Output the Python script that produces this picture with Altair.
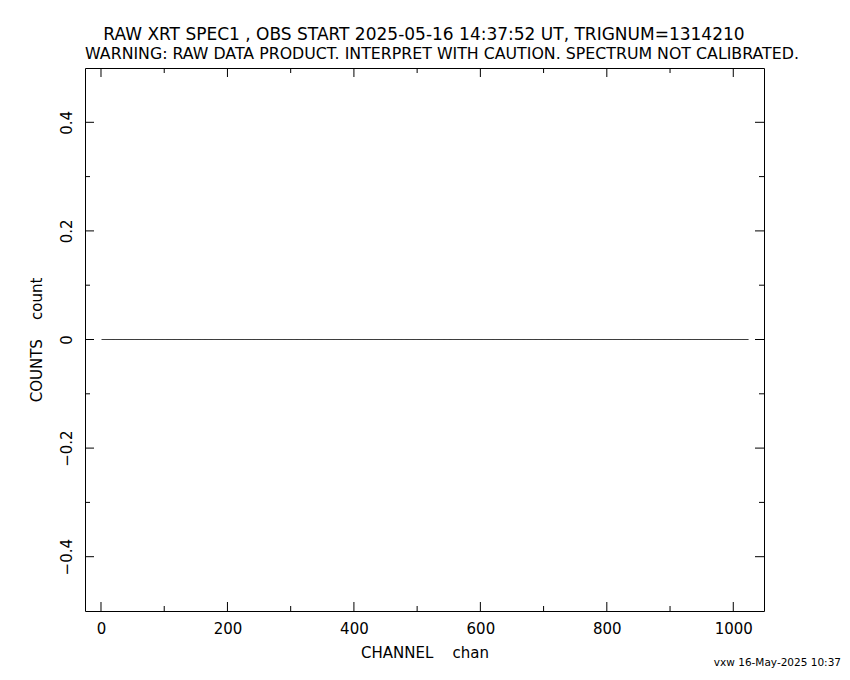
import altair as alt
import pandas as pd

# ---- data ----
channels = list(range(1, 1025))
counts = [0.0] * 1024

x_major = [0, 200, 400, 600, 800, 1000]
x_minor = [100, 300, 500, 700, 900]
y_major = [-0.4, -0.2, 0.0, 0.2, 0.4]
y_minor = [-0.3, -0.1, 0.1, 0.3]

title_line1 = "RAW XRT SPEC1 , OBS START 2025-05-16 14:37:52 UT, TRIGNUM=1314210"
title_line2 = "WARNING: RAW DATA PRODUCT. INTERPRET WITH CAUTION. SPECTRUM NOT CALIBRATED."
x_title = "CHANNEL\u00a0\u00a0\u00a0\u00a0chan"
y_title = "COUNTS\u00a0\u00a0\u00a0\u00a0count"
footer = "vxw 16-May-2025 10:37"

# ---- layout ----
W, H = 679, 543
FONT = "DejaVu Sans"
MAJ, MIN = 9, 5

xs = alt.Scale(domain=[-25.3, 1048.6], nice=False, zero=False)
ys = alt.Scale(domain=[-0.5, 0.5], nice=False, zero=False)

x_axis = alt.Axis(values=x_major, ticks=False, domain=False, grid=False,
                  labelPadding=10, labelFont=FONT, labelFontSize=15, labelColor="black",
                  title=x_title, titleFont=FONT, titleFontSize=15, titleFontWeight="normal",
                  titleColor="black", titlePadding=9, format="d")
y_axis = alt.Axis(values=y_major, ticks=False, domain=False, grid=False,
                  labelAngle=-90, labelAlign="center", labelBaseline="bottom",
                  labelPadding=11, labelFont=FONT, labelFontSize=15, labelColor="black",
                  format=".1~f",
                  title=y_title, titleFont=FONT, titleFontSize=15, titleFontWeight="normal",
                  titleColor="black", titlePadding=15)

df = pd.DataFrame({"channel": channels, "counts": counts})

line = alt.Chart(df).mark_line(color="black", strokeWidth=1).encode(
    x=alt.X("channel:Q", scale=xs, axis=x_axis),
    y=alt.Y("counts:Q", scale=ys, axis=y_axis),
)

def xticks(vals, length):
    d = pd.DataFrame({"channel": vals})
    base = alt.Chart(d).mark_rule(color="black", strokeWidth=1)
    bottom = base.encode(x=alt.X("channel:Q", scale=xs, axis=x_axis),
                         y=alt.value(H), y2=alt.value(H - length))
    top = base.encode(x=alt.X("channel:Q", scale=xs, axis=x_axis),
                      y=alt.value(0), y2=alt.value(length))
    return [bottom, top]

def yticks(vals, length):
    d = pd.DataFrame({"counts": vals})
    base = alt.Chart(d).mark_rule(color="black", strokeWidth=1)
    left = base.encode(y=alt.Y("counts:Q", scale=ys, axis=y_axis),
                       x=alt.value(0), x2=alt.value(length))
    right = base.encode(y=alt.Y("counts:Q", scale=ys, axis=y_axis),
                        x=alt.value(W), x2=alt.value(W - length))
    return [left, right]

def text_layer(txt, size, x, y, align="center"):
    return alt.Chart(pd.DataFrame({"t": [txt]})).mark_text(
        align=align, baseline="alphabetic", font=FONT, fontSize=size, color="black"
    ).encode(text="t:N", x=alt.value(x), y=alt.value(y))

head1 = text_layer(title_line1, 17, 339, -28)
head2 = text_layer(title_line2, 15.8, 357, -9)
foot = text_layer(footer, 10.5, 756, 598, align="right")

layers = ([line] + xticks(x_major, MAJ) + xticks(x_minor, MIN)
          + yticks(y_major, MAJ) + yticks(y_minor, MIN) + [head1, head2, foot])

chart = alt.layer(*layers).properties(
    width=W, height=H,
    background="white",
    autosize=alt.AutoSizeParams(type="none"),
    padding={"left": 77, "top": 60, "right": 78, "bottom": 58},
).configure_view(stroke="black", strokeWidth=1)

chart.save("out.html", embed_options={"renderer": "svg", "actions": False})
